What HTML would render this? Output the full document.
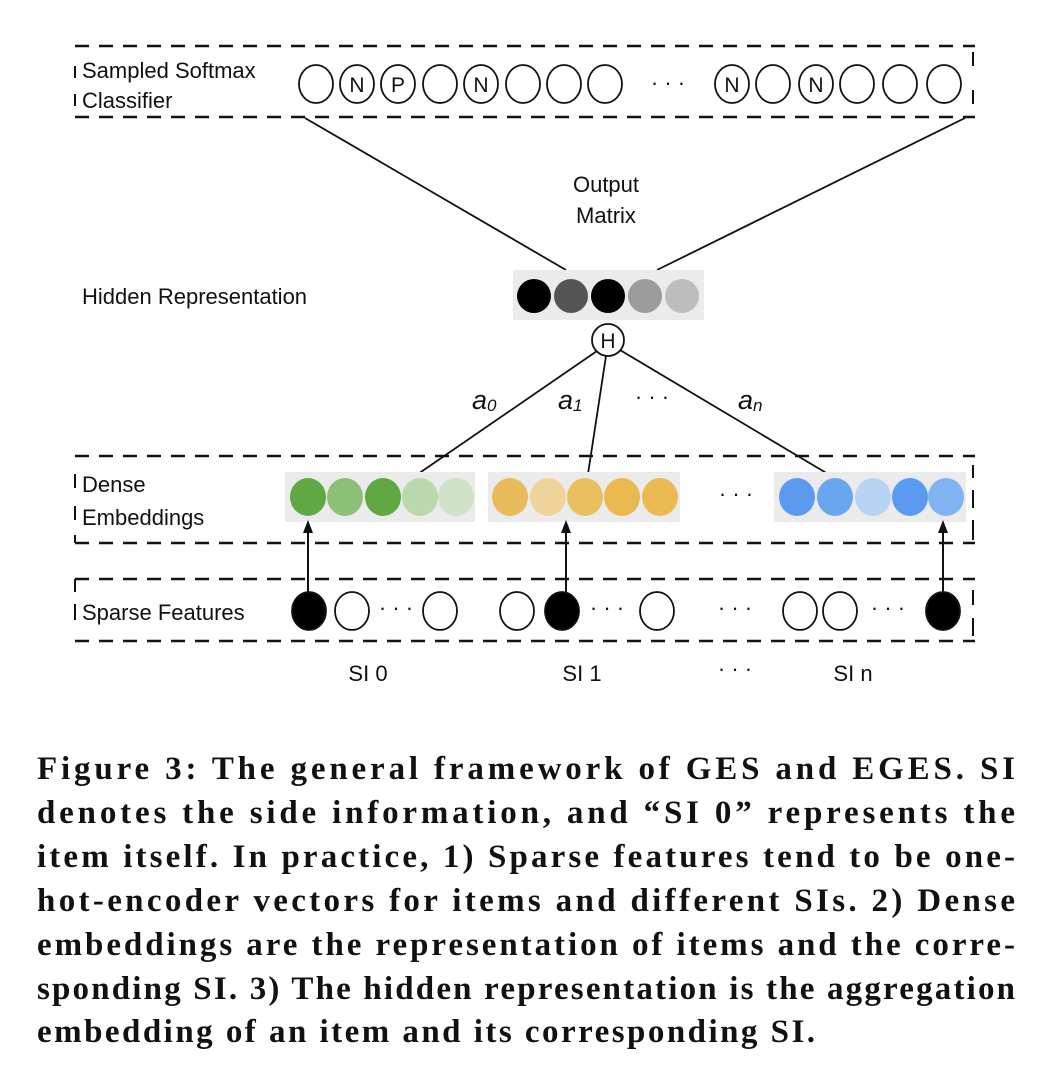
<!DOCTYPE html>
<html><head><meta charset="utf-8"><style>html,body{margin:0;padding:0;background:#fff}svg{display:block}</style></head>
<body>
<svg width="1052" height="1086" viewBox="0 0 1052 1086" xmlns="http://www.w3.org/2000/svg">
<g font-family="Liberation Sans, Arial, sans-serif" fill="#111">
<g stroke="#111" stroke-width="2.5" stroke-dasharray="14,10" fill="none">
<line x1="75" y1="46" x2="975" y2="46"/><line x1="75" y1="117" x2="975" y2="117"/>
<line x1="75" y1="456" x2="975" y2="456"/><line x1="75" y1="543" x2="975" y2="543"/>
<line x1="75" y1="579" x2="975" y2="579"/><line x1="75" y1="641" x2="975" y2="641"/>
</g>
<g stroke="#111" stroke-width="2">
<line x1="75" y1="66" x2="75" y2="78"/><line x1="75" y1="94" x2="75" y2="106"/>
<line x1="973" y1="52" x2="973" y2="66"/><line x1="973" y1="90" x2="973" y2="104"/>
<line x1="75" y1="474" x2="75" y2="488"/><line x1="75" y1="506" x2="75" y2="520"/><line x1="75" y1="535" x2="75" y2="543"/>
<line x1="973" y1="465" x2="973" y2="478"/><line x1="973" y1="490" x2="973" y2="508"/><line x1="973" y1="520" x2="973" y2="540"/>
<line x1="75" y1="579" x2="75" y2="592"/><line x1="75" y1="604" x2="75" y2="620"/>
<line x1="973" y1="590" x2="973" y2="605"/><line x1="973" y1="618" x2="973" y2="636"/>
</g>
<text x="82" y="78" font-size="22">Sampled Softmax</text>
<text x="82" y="108" font-size="22">Classifier</text>
<g stroke="#111" stroke-width="1.8" fill="#fff">
<ellipse cx="316" cy="84" rx="17" ry="19"/><ellipse cx="357" cy="84" rx="17" ry="19"/><ellipse cx="398" cy="84" rx="17" ry="19"/><ellipse cx="440" cy="84" rx="17" ry="19"/><ellipse cx="481" cy="84" rx="17" ry="19"/><ellipse cx="523" cy="84" rx="17" ry="19"/><ellipse cx="564" cy="84" rx="17" ry="19"/><ellipse cx="605" cy="84" rx="17" ry="19"/>
<ellipse cx="732" cy="84" rx="17" ry="19"/><ellipse cx="773" cy="84" rx="17" ry="19"/><ellipse cx="816" cy="84" rx="17" ry="19"/><ellipse cx="857" cy="84" rx="17" ry="19"/><ellipse cx="900" cy="84" rx="17" ry="19"/><ellipse cx="944" cy="84" rx="17" ry="19"/>
</g>
<g font-size="21" text-anchor="middle"><text x="357" y="92">N</text><text x="398" y="92">P</text><text x="481" y="92">N</text><text x="732" y="92">N</text><text x="816" y="92">N</text></g>
<text x="668" y="90" font-size="22" text-anchor="middle">· · ·</text>
<g stroke="#111" stroke-width="1.8">
<line x1="305" y1="118" x2="566" y2="270"/><line x1="965" y1="118" x2="657" y2="270"/>
<line x1="597" y1="351" x2="418" y2="474"/><line x1="606" y1="356" x2="588" y2="474"/><line x1="620" y1="350" x2="828" y2="474"/>
</g>
<text x="606" y="192" font-size="22" text-anchor="middle">Output</text>
<text x="606" y="223" font-size="22" text-anchor="middle">Matrix</text>
<text x="82" y="304" font-size="22">Hidden Representation</text>
<rect x="513" y="270" width="191" height="50" fill="#ebebeb"/>
<circle cx="534" cy="296" r="17" fill="#000"/><circle cx="571" cy="296" r="17" fill="#555"/><circle cx="608" cy="296" r="17" fill="#000"/><circle cx="645" cy="296" r="17" fill="#9c9c9c"/><circle cx="682" cy="296" r="17" fill="#bdbdbd"/>
<circle cx="608" cy="340" r="16" fill="#fff" stroke="#111" stroke-width="1.8"/>
<text x="608" y="348" font-size="21" text-anchor="middle">H</text>
<text x="472" y="409" font-size="27" font-style="italic">a<tspan font-size="17" dy="2">0</tspan></text>
<text x="558" y="409" font-size="27" font-style="italic">a<tspan font-size="17" dy="2">1</tspan></text>
<text x="652" y="404" font-size="22" text-anchor="middle">· · ·</text>
<text x="738" y="409" font-size="27" font-style="italic">a<tspan font-size="17" dy="2">n</tspan></text>
<text x="82" y="492" font-size="22">Dense</text>
<text x="82" y="525" font-size="22">Embeddings</text>
<rect x="285" y="472" width="190" height="50" fill="#ebebeb"/><rect x="488" y="472" width="192" height="50" fill="#ebebeb"/><rect x="774" y="472" width="192" height="50" fill="#ebebeb"/>
<g>
<ellipse cx="308" cy="497" rx="18" ry="19" fill="#5fa844"/><ellipse cx="345" cy="497" rx="18" ry="19" fill="#8cc076"/><ellipse cx="383" cy="497" rx="18" ry="19" fill="#5fa844"/><ellipse cx="420" cy="497" rx="18" ry="19" fill="#b9d8ab"/><ellipse cx="456" cy="497" rx="18" ry="19" fill="#cfe2c6"/>
<ellipse cx="510" cy="497" rx="18" ry="19" fill="#e9bb5a"/><ellipse cx="548" cy="497" rx="18" ry="19" fill="#efd59b"/><ellipse cx="585" cy="497" rx="18" ry="19" fill="#eabf5e"/><ellipse cx="622" cy="497" rx="18" ry="19" fill="#e9b94f"/><ellipse cx="660" cy="497" rx="18" ry="19" fill="#e9ba52"/>
<ellipse cx="797" cy="497" rx="18" ry="19" fill="#5b9bef"/><ellipse cx="835" cy="497" rx="18" ry="19" fill="#6aa5f0"/><ellipse cx="873" cy="497" rx="18" ry="19" fill="#b9d3f4"/><ellipse cx="910" cy="497" rx="18" ry="19" fill="#5b9bef"/><ellipse cx="946" cy="497" rx="18" ry="19" fill="#80b3f2"/>
</g>
<text x="736" y="501" font-size="22" text-anchor="middle">· · ·</text>
<g stroke="#111" stroke-width="2"><line x1="308" y1="594" x2="308" y2="530"/><line x1="566" y1="594" x2="566" y2="530"/><line x1="943" y1="594" x2="943" y2="530"/></g>
<polygon points="308,520 303,533 313,533" fill="#111"/><polygon points="566,520 561,533 571,533" fill="#111"/><polygon points="943,520 938,533 948,533" fill="#111"/>
<text x="82" y="620" font-size="22">Sparse Features</text>
<g stroke="#111" stroke-width="1.8">
<ellipse cx="309" cy="611" rx="17" ry="19" fill="#000"/><ellipse cx="352" cy="611" rx="17" ry="19" fill="#fff"/><ellipse cx="440" cy="611" rx="17" ry="19" fill="#fff"/>
<ellipse cx="517" cy="611" rx="17" ry="19" fill="#fff"/><ellipse cx="562" cy="611" rx="17" ry="19" fill="#000"/><ellipse cx="657" cy="611" rx="17" ry="19" fill="#fff"/>
<ellipse cx="800" cy="611" rx="17" ry="19" fill="#fff"/><ellipse cx="840" cy="611" rx="17" ry="19" fill="#fff"/><ellipse cx="943" cy="611" rx="17" ry="19" fill="#000"/>
</g>
<g font-size="22" text-anchor="middle"><text x="396" y="615">· · ·</text><text x="607" y="615">· · ·</text><text x="735" y="615">· · ·</text><text x="888" y="615">· · ·</text></g>
<g font-size="22" text-anchor="middle"><text x="368" y="681">SI 0</text><text x="582" y="681">SI 1</text><text x="735" y="676">· · ·</text><text x="853" y="681">SI n</text></g>
</g>
<g font-family="Liberation Serif, serif" font-weight="bold" font-size="33" fill="#111">
<text x="37" y="779" textLength="978" lengthAdjust="spacing">Figure 3: The general framework of GES and EGES. SI</text>
<text x="37" y="823" textLength="978" lengthAdjust="spacing">denotes the side information, and “SI 0” represents the</text>
<text x="37" y="867" textLength="978" lengthAdjust="spacing">item itself. In practice, 1) Sparse features tend to be one-</text>
<text x="37" y="911" textLength="978" lengthAdjust="spacing">hot-encoder vectors for items and different SIs. 2) Dense</text>
<text x="37" y="955" textLength="978" lengthAdjust="spacing">embeddings are the representation of items and the corre-</text>
<text x="37" y="999" textLength="978" lengthAdjust="spacing">sponding SI. 3) The hidden representation is the aggregation</text>
<text x="37" y="1042" textLength="778" lengthAdjust="spacing">embedding of an item and its corresponding SI.</text>
</g>
</svg>
</body></html>
